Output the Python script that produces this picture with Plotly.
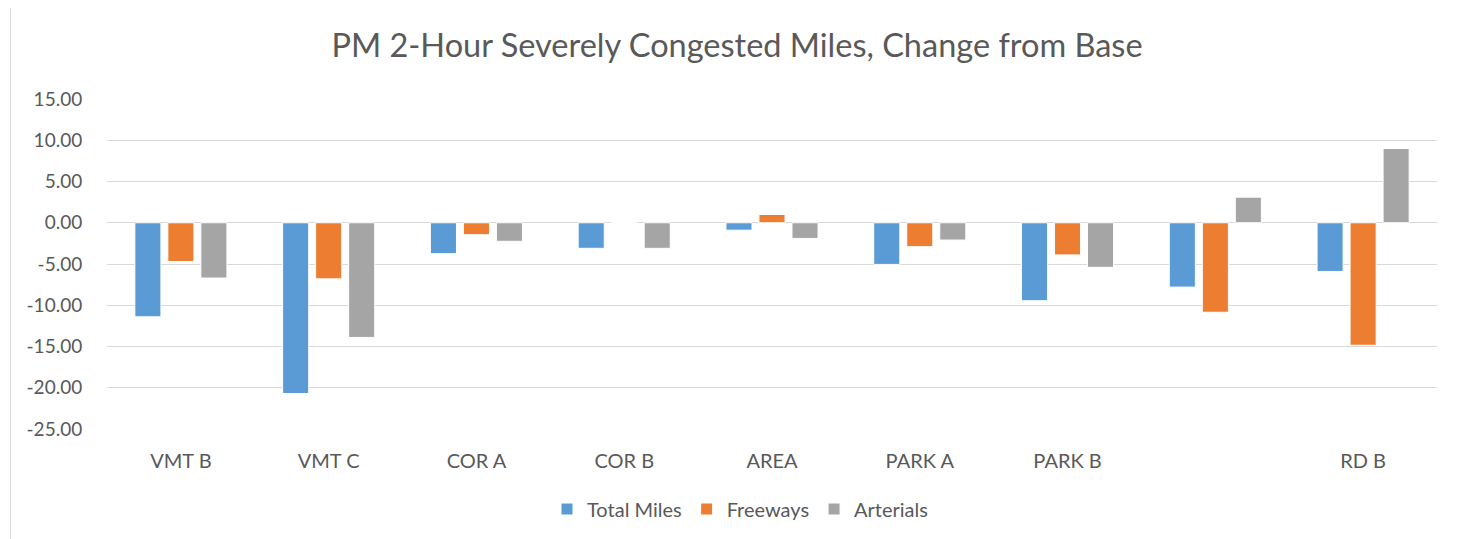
import plotly.graph_objects as go

categories = ["VMT B", "VMT C", "COR A", "COR B", "AREA", "PARK A", "PARK B", " ", "RD B"]
total_miles = [-11.4, -20.7, -3.75, -3.1, -0.9, -5.05, -9.45, -7.8, -5.9]
freeways = [-4.7, -6.8, -1.45, 0.0, 1.0, -2.9, -3.9, -10.85, -14.85]
arterials = [-6.7, -13.9, -2.25, -3.1, -1.9, -2.1, -5.4, 3.1, 9.0]
y_ticks = [15, 10, 5, 0, -5, -10, -15, -20, -25]

series = [("Total Miles", total_miles, "#5B9BD5"),
          ("Freeways", freeways, "#ED7D31"),
          ("Arterials", arterials, "#A5A5A5")]

fig = go.Figure()
for name, vals, col in series:
    fig.add_trace(go.Bar(x=categories, y=vals, name=name,
                         marker=dict(color=col, line=dict(color="white", width=1))))

# page body has an 8px margin: figure is placed at (8, 8)
OFF = 8
W, H = 1469 - OFF, 539 - OFF
L, R, T, B = 107 - OFF, 32, 99 - OFF, 110
pw, ph = W - L - R, H - T - B

def px2x(px):
    return (px - OFF - L) / pw

def py2y(py):
    return (H - B - (py - OFF)) / ph

font = "Lato, 'Open Sans', sans-serif"
fig.update_layout(
    width=W, height=H,
    margin=dict(l=L, r=R, t=T, b=B),
    paper_bgcolor="white", plot_bgcolor="white",
    barmode="group", bargap=0.33, bargroupgap=0.21,
    title=dict(text="PM 2-Hour Severely Congested Miles, Change from Base",
               x=(737 - OFF) / W, xref="container", xanchor="center",
               y=1 - (46 - OFF) / H, yref="container", yanchor="middle",
               font=dict(family=font, size=32.5, color="#595959")),
    font=dict(family=font, size=19, color="#595959"),
    legend=dict(orientation="h", xref="container", x=(740 - OFF) / W, xanchor="center",
                yref="container", y=1 - (509 - OFF) / H, yanchor="middle",
                font=dict(family=font, size=20, color="#595959"),
                itemwidth=30, traceorder="normal"),
    xaxis=dict(type="category", categoryorder="array", categoryarray=categories,
               showgrid=False, showline=False, zeroline=False,
               ticks="outside", ticklen=14, tickcolor="rgba(0,0,0,0)",
               tickfont=dict(family=font, size=20, color="#595959")),
    yaxis=dict(range=[-25, 15], tickvals=y_ticks,
               ticktext=[f"{v:.2f}" for v in y_ticks],
               showgrid=True, gridcolor="#D9D9D9", gridwidth=1,
               zeroline=True, zerolinecolor="#D9D9D9", zerolinewidth=1,
               showline=False, ticks="outside", ticklen=20,
               tickcolor="rgba(0,0,0,0)",
               tickfont=dict(family=font, size=19, color="#595959")),
    shapes=[dict(type="rect", xref="paper", yref="paper",
                 x0=px2x(10.5), x1=px2x(1465.5), y0=py2y(545), y1=py2y(6),
                 line=dict(color="#D9D9D9", width=1), fillcolor="rgba(0,0,0,0)",
                 layer="below")],
)

fig.write_html("out.html")
